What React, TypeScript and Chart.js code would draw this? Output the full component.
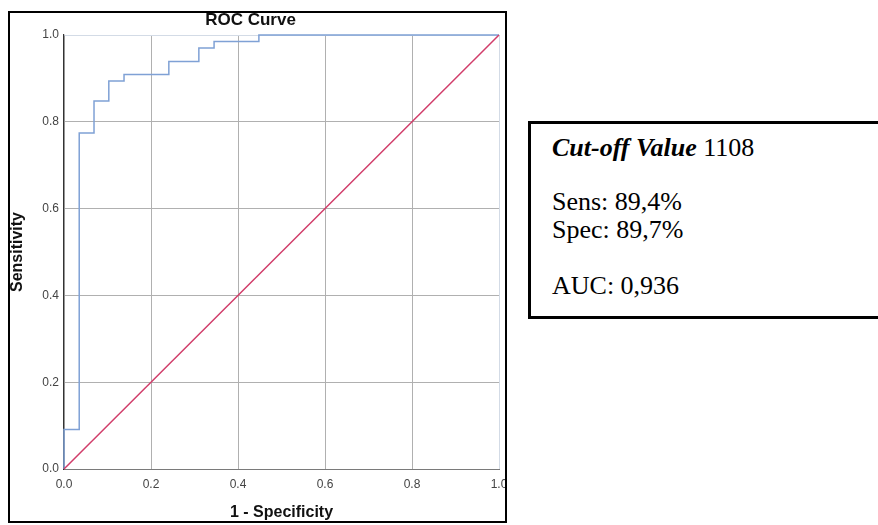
import React, { useEffect, useRef } from "react";
import { Chart, registerables } from "chart.js";

Chart.register(...registerables);

// ROC step curve corners (1 - specificity, sensitivity)
const fprSteps = [0, 0, 0.035, 0.035, 0.069, 0.069, 0.103, 0.103, 0.138, 0.138, 0.241, 0.241, 0.31, 0.31, 0.345, 0.345, 0.448, 0.448, 1.0];
const sensSteps = [0, 0.091, 0.091, 0.774, 0.774, 0.848, 0.848, 0.894, 0.894, 0.909, 0.909, 0.939, 0.939, 0.97, 0.97, 0.985, 0.985, 1.0, 1.0];
// reference diagonal
const refX = [0, 1];
const refY = [0, 1];
const tickStep = 0.2;

const chartTitle = "ROC Curve";
const xTitle = "1 - Specificity";
const yTitle = "Sensitivity";
const cutoffLabel = "Cut-off Value";
const cutoffValue = "1108";
const sensText = "Sens: 89,4%";
const specText = "Spec: 89,7%";
const aucText = "AUC: 0,936";

const SANS = "'Liberation Sans', Arial, sans-serif";
const SERIF = "'Liberation Serif', 'Times New Roman', serif";

export default function App() {
  const canvasRef = useRef<HTMLCanvasElement | null>(null);

  useEffect(() => {
    if (!canvasRef.current) return;
    const gridColor = (ctx: any) => (ctx.tick && ctx.tick.value >= 0.999 ? "#d3dbe6" : "#b0b0b0");
    const chart = new Chart(canvasRef.current, {
      type: "line",
      data: {
        datasets: [
          {
            label: "ref",
            data: refX.map((x, i) => ({ x, y: refY[i] })),
            borderColor: "#d13d6a",
            borderWidth: 1.5,
            pointRadius: 0,
            fill: false,
            clip: false as any,
          },
          {
            label: "roc",
            data: fprSteps.map((x, i) => ({ x, y: sensSteps[i] })),
            borderColor: "#7fa1d5",
            borderWidth: 1.5,
            pointRadius: 0,
            fill: false,
            tension: 0,
            clip: false as any,
          },
        ],
      },
      options: {
        animation: false,
        responsive: false,
        devicePixelRatio: 1,
        layout: { padding: { top: 0, left: 2, right: 379, bottom: 0 } },
        plugins: {
          legend: { display: false },
          tooltip: { enabled: false },
          title: {
            display: true,
            text: chartTitle,
            fullSize: true,
            color: "#111",
            font: { family: SANS, size: 17, weight: "bold" },
            padding: { top: 10.3, bottom: 4.3 },
          },
        },
        scales: {
          x: {
            type: "linear",
            min: 0,
            max: 1,
            ticks: {
              stepSize: tickStep,
              padding: 8,
              color: "#444",
              font: { family: SANS, size: 12 },
              callback: (v: any) => Number(v).toFixed(1),
            },
            grid: { color: gridColor, lineWidth: 1, drawTicks: false },
            border: { color: "#7a7a7a", width: 1 },
            title: {
              display: true,
              text: xTitle,
              color: "#111",
              font: { family: SANS, size: 16, weight: "bold" },
              padding: { top: 0, bottom: 3 },
            },
            afterFit: (s: any) => {
              s.height = 56;
              s.paddingLeft = 0;
              s.paddingRight = 0;
            },
          },
          y: {
            type: "linear",
            min: 0,
            max: 1,
            ticks: {
              stepSize: tickStep,
              padding: 5,
              color: "#444",
              font: { family: SANS, size: 12 },
              callback: (v: any) => Number(v).toFixed(1),
            },
            grid: { color: gridColor, lineWidth: 1, drawTicks: false },
            border: { color: "#333", width: 1.2 },
            title: {
              display: true,
              text: yTitle,
              color: "#111",
              font: { family: SANS, size: 16, weight: "bold" },
              padding: { top: 6.4, bottom: 0 },
            },
            afterFit: (s: any) => {
              s.width = 62;
              s.paddingTop = 0;
              s.paddingBottom = 0;
            },
          },
        },
      },
    });
    return () => chart.destroy();
  }, []);

  const lineStyle: React.CSSProperties = {
    position: "absolute",
    left: 552,
    fontFamily: SERIF,
    fontSize: 26,
    lineHeight: "30px",
    height: 30,
    color: "#000",
    whiteSpace: "nowrap",
  };

  return (
    <div
      style={{
        position: "fixed",
        left: 0,
        top: 0,
        width: 878,
        height: 525,
        overflow: "hidden",
        background: "#fff",
      }}
    >
      <canvas ref={canvasRef} width={878} height={525} style={{ display: "block", position: "absolute", left: 0, top: 0 }} />
      <div
        style={{
          position: "absolute",
          left: 8,
          top: 11,
          width: 499,
          height: 512,
          border: "2px solid #000",
          boxSizing: "border-box",
          pointerEvents: "none",
        }}
      />
      <div
        style={{
          position: "absolute",
          left: 528,
          top: 121,
          width: 400,
          height: 198,
          border: "3px solid #000",
          boxSizing: "border-box",
          background: "#fff",
        }}
      />
      <div style={{ ...lineStyle, top: 133 }}>
        <span style={{ fontWeight: "bold", fontStyle: "italic" }}>{cutoffLabel}</span> {cutoffValue}
      </div>
      <div style={{ ...lineStyle, top: 187 }}>{sensText}</div>
      <div style={{ ...lineStyle, top: 215 }}>{specText}</div>
      <div style={{ ...lineStyle, top: 271 }}>{aucText}</div>
    </div>
  );
}
